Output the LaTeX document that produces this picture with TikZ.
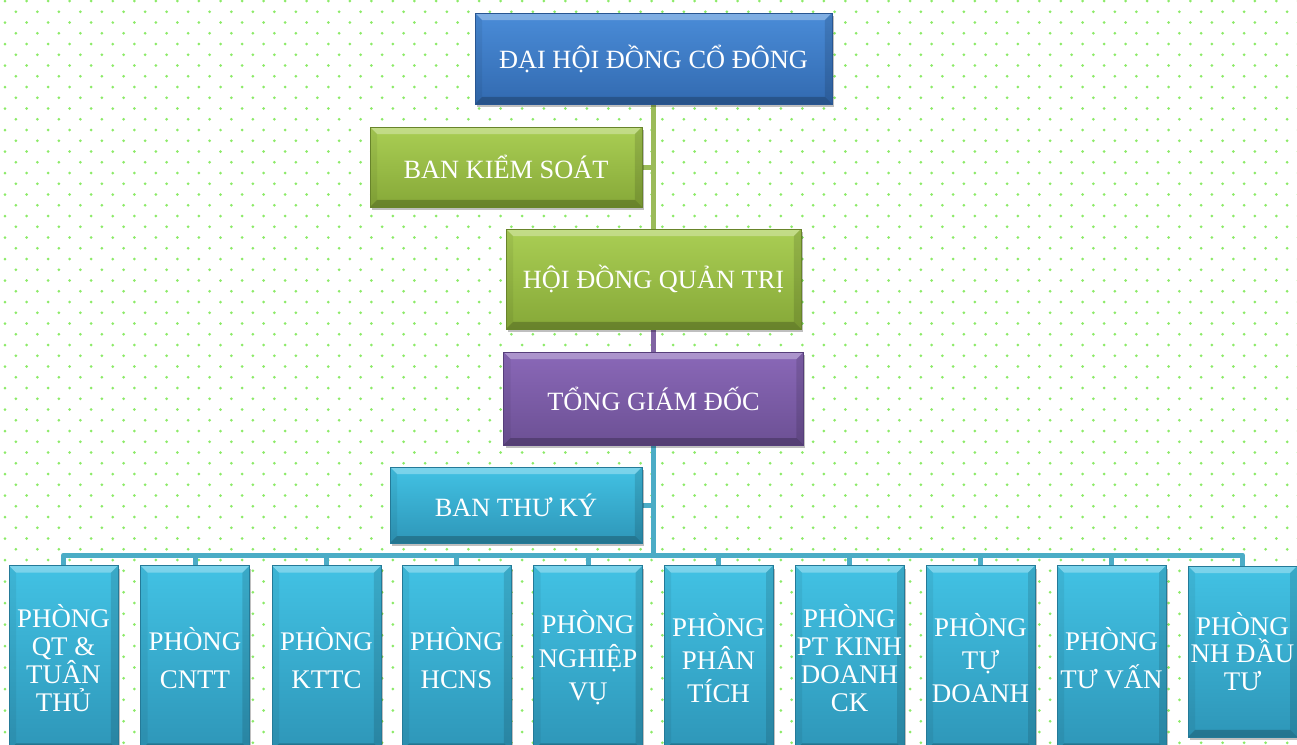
\documentclass[tikz,border=0pt]{standalone}
\usepackage{fontspec}
\setmainfont{Liberation Serif}
\usepackage{xcolor}
\usetikzlibrary{backgrounds, shadows}

\definecolor{dotgreen}{RGB}{140,234,104}
\definecolor{blutop}{RGB}{74,140,216}
\definecolor{blubot}{RGB}{50,106,176}
\definecolor{bluedge}{RGB}{40,86,146}
\definecolor{grntop}{RGB}{170,206,84}
\definecolor{grnbot}{RGB}{134,168,56}
\definecolor{grnedge}{RGB}{104,132,42}
\definecolor{purtop}{RGB}{138,104,184}
\definecolor{purbot}{RGB}{108,80,148}
\definecolor{puredge}{RGB}{86,62,122}
\definecolor{cyatop}{RGB}{66,194,228}
\definecolor{cyabot}{RGB}{46,150,184}
\definecolor{cyaedge}{RGB}{36,122,152}
\definecolor{lgreen}{RGB}{155,187,89}
\definecolor{lpurple}{RGB}{128,100,162}
\definecolor{lcyan}{RGB}{75,172,198}

\begin{document}
\begin{tikzpicture}[
    x=0.02cm, y=-0.02cm,
    % Styles
    bevel/.style={path picture={
        \fill[white, opacity=0.3] (path picture bounding box.north west) -- (path picture bounding box.north east) -- ([shift={(-0.14cm,-0.14cm)}]path picture bounding box.north east) -- ([shift={(0.14cm,-0.14cm)}]path picture bounding box.north west) -- cycle;
        \fill[black, opacity=0.06] (path picture bounding box.north west) -- ([shift={(0.14cm,-0.14cm)}]path picture bounding box.north west) -- ([shift={(0.14cm,0.14cm)}]path picture bounding box.south west) -- (path picture bounding box.south west) -- cycle;
        \fill[black, opacity=0.12] (path picture bounding box.north east) -- ([shift={(-0.14cm,-0.14cm)}]path picture bounding box.north east) -- ([shift={(-0.14cm,0.14cm)}]path picture bounding box.south east) -- (path picture bounding box.south east) -- cycle;
        \fill[black, opacity=0.22] (path picture bounding box.south west) -- ([shift={(0.14cm,0.14cm)}]path picture bounding box.south west) -- ([shift={(-0.14cm,0.14cm)}]path picture bounding box.south east) -- (path picture bounding box.south east) -- cycle;
    }},
    org/.style={rectangle, draw=#1edge, line width=0.5pt, top color=#1top, bottom color=#1bot, bevel, drop shadow={shadow xshift=0.04cm, shadow yshift=-0.06cm, opacity=0.25, fill=black}, text=white, inner sep=1pt, align=center, font=\fontsize{15}{18}\selectfont},
    dept/.style={org=cya, minimum width=2.18cm, minimum height=3.7cm, font=\fontsize{15.3}{#1}\selectfont},
    dept/.default=18,
    link/.style={line width=0.1cm},
]
\useasboundingbox (0,0) rectangle (1297,744);

% ===== TOP LEVELS =====
\node[org=blu, minimum width=7.14cm, minimum height=1.82cm] (dhdc) at (653.5, 58.5) {ĐẠI HỘI ĐỒNG CỔ ĐÔNG};
\node[org=grn, minimum width=5.44cm, minimum height=1.6cm] (bks) at (506, 167) {BAN KIỂM SOÁT};
\node[org=grn, minimum width=5.9cm, minimum height=2cm] (hdqt) at (653.5, 279) {HỘI ĐỒNG QUẢN TRỊ};
\node[org=pur, minimum width=6cm, minimum height=1.86cm] (tgd) at (653.5, 398.5) {TỔNG GIÁM ĐỐC};
\node[org=cya, minimum width=5.04cm, minimum height=1.52cm] (btk) at (516, 505) {BAN THƯ KÝ};

\coordinate (bus) at (653.5, 555);

% ===== DEPARTMENTS =====
\node[dept=16] (qt) at (63.5, 658) {PHÒNG\\QT \&\\TUÂN\\THỦ};
\node[dept=22] (cntt) at (195, 658) {PHÒNG\\CNTT};
\node[dept=22] (kttc) at (326.5, 658) {PHÒNG\\KTTC};
\node[dept=22] (hcns) at (456.5, 658) {PHÒNG\\HCNS};
\node[dept=19] (nv) at (588, 658) {PHÒNG\\NGHIỆP\\VỤ};
\node[dept=19] (pt) at (718.5, 658) {PHÒNG\\PHÂN\\TÍCH};
\node[dept=16] (ptkd) at (849.5, 658) {PHÒNG\\PT KINH\\DOANH\\CK};
\node[dept=19] (td) at (980.5, 658) {PHÒNG\\TỰ\\DOANH};
\node[dept=22] (tv) at (1111.5, 658) {PHÒNG\\TƯ VẤN};
\node[dept=15.5, minimum height=3.42cm] (nhdt) at (1242.5, 651.5) {PHÒNG\\NH ĐẦU\\TƯ};

% ===== BACKGROUND + CONNECTORS =====
\begin{scope}[on background layer]
\foreach \r in {0,...,69}
    \fill[dotgreen] \foreach \c in {0,...,60} {({5+21.55*\c+10.77*mod(\r,2)}, {1+10.75*\r}) circle (0.03cm)};

\draw[link, lgreen] (dhdc.south) -- (hdqt.north);
\draw[link, lgreen] (bks.east) -- (bks.east -| dhdc.south);
\draw[link, lpurple] (hdqt.south) -- (tgd.north);
\draw[link, lcyan] (tgd.south) -- (tgd.south |- bus);
\draw[link, lcyan] (btk.east) -- (btk.east -| tgd.south);
\draw[link, lcyan, line join=round] (qt.north) -- (qt.north |- bus) -- (nhdt.north |- bus) -- (nhdt.north);
\foreach \d in {cntt, kttc, hcns, nv, pt, ptkd, td, tv}
    \draw[link, lcyan] (\d.north) -- (\d.north |- bus);
\end{scope}

\end{tikzpicture}
\end{document}
